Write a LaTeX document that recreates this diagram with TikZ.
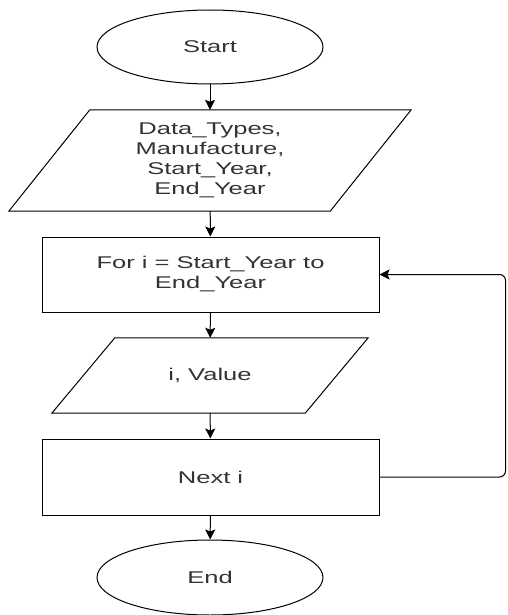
\documentclass[tikz,border=0pt]{standalone}
\usepackage{fontspec}
\setmainfont[FakeStretch=1.5]{Liberation Sans}
\usetikzlibrary{shapes.geometric, arrows.meta}
\definecolor{flowtext}{HTML}{333333}

\begin{document}
\begin{tikzpicture}[x=1pt, y=-1pt,
  every node/.style={text=flowtext, font=\fontsize{17}{20}\selectfont, align=center, inner sep=0pt},
  terminal/.style={draw, ellipse, line width=1pt, minimum width=226pt, minimum height=74pt},
  process/.style={draw, rectangle, line width=1pt, minimum width=337pt, minimum height=75pt},
  inout/.style={rectangle, minimum width=#1},
  outline/.style={line width=1pt, line join=miter},
  flow/.style={line width=1pt, -{Stealth[length=10pt, width=10pt, inset=2pt]}}]

  % Page frame
  \useasboundingbox (0,0) rectangle (507,615);

  % Flowchart boxes, top to bottom
  \node[terminal] (start) at (210, 47) {Start};
  \node[inout=321pt, minimum height=101pt] (inputs) at (210, 160.5)
    {Data\_Types,\\Manufacture,\\Start\_Year,\\End\_Year};
  \node[process] (forloop) at (210.5, 274.5) {For i = Start\_Year to\\End\_Year};
  \node[inout=253pt, minimum height=75pt] (output) at (210, 375.5) {i, Value};
  \node[process, minimum height=76pt] (nexti) at (210.5, 477) {Next i};
  \node[terminal, minimum height=75pt] (stop) at (210, 577.5) {End};

  % Parallelogram outlines of the input/output boxes
  \draw[outline] ([xshift=40.5pt]inputs.north west) -- ([xshift=40.5pt]inputs.north east)
    -- ([xshift=-40.5pt]inputs.south east) -- ([xshift=-40.5pt]inputs.south west) -- cycle;
  \draw[outline] ([xshift=31.5pt]output.north west) -- ([xshift=31.5pt]output.north east)
    -- ([xshift=-31.5pt]output.south east) -- ([xshift=-31.5pt]output.south west) -- cycle;

  % Straight connectors
  \draw[flow] (start) -- (inputs);
  \draw[flow] (inputs) -- (forloop);
  \draw[flow] (forloop) -- (output);
  \draw[flow] (output) -- (nexti);
  \draw[flow] (nexti) -- (stop);

  % Loop back to the for box
  \draw[flow, rounded corners=6pt] (nexti.east) -| (505.5, 274.5) -- (forloop.east);
\end{tikzpicture}
\end{document}
